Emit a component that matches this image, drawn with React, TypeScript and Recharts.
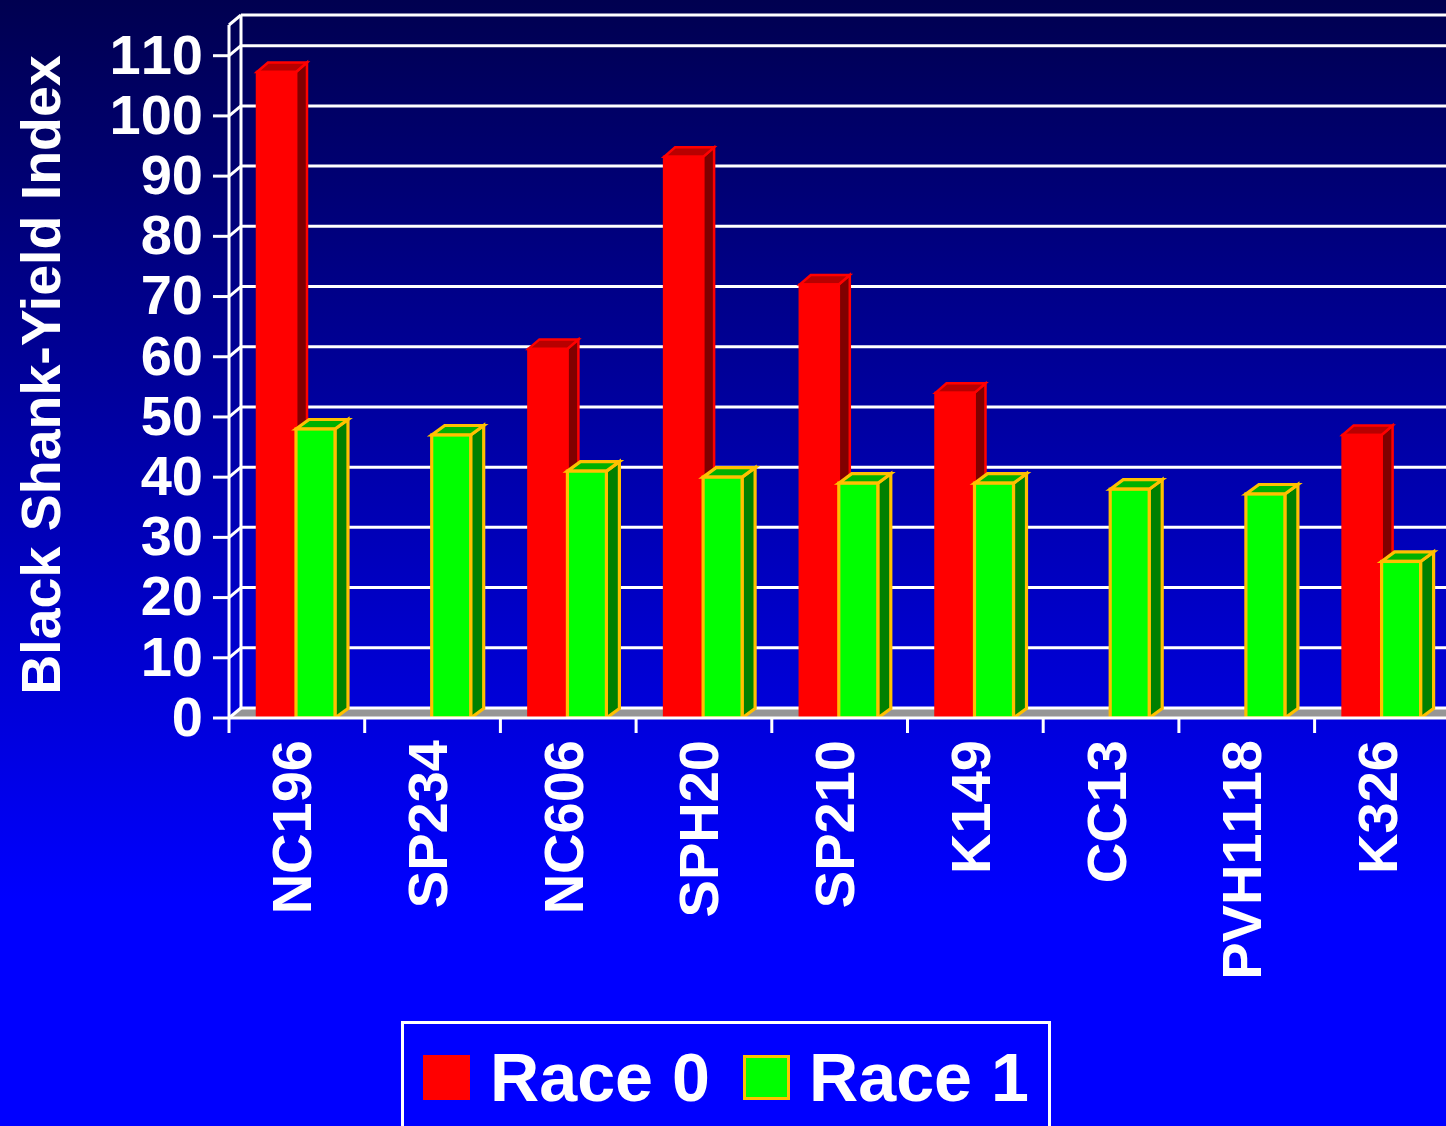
import React from 'react';
import { BarChart, Bar, XAxis, YAxis, CartesianGrid, Legend, Label } from 'recharts';

const categories = ['NC196', 'SP234', 'NC606', 'SPH20', 'SP210', 'K149', 'CC13', 'PVH1118', 'K326'];
const race0: (number | null)[] = [107.3, null, 61.3, 93.2, 72, 54, null, null, 47];
const race1: number[] = [48, 47, 41, 40, 39, 39, 38, 37.2, 26];
const yTicks = [0, 10, 20, 30, 40, 50, 60, 70, 80, 90, 100, 110];
const yMax = 115.1;
const yTitle = 'Black Shank-Yield Index';
const seriesNames = ['Race 0', 'Race 1'];

const data = categories.map((name, i) => ({ name, race0: race0[i], race1: race1[i] }));

const FONT = '"Liberation Sans", Arial, sans-serif';
const DX = 12;
const DY = 10;
const BAND = 135.7;

function Bar3D(props: any, fill: string, top: string, side: string, stroke: string, sw: number, dx: number) {
  const { y, width, height, value } = props;
  if (value == null || !(height > 0)) return <g />;
  const x = props.x - 1;
  const r = x + width;
  const b = y + height;
  const dy = 9.5;
  return (
    <g strokeLinejoin="miter">
      <polygon points={`${r},${y} ${r + dx},${y - dy} ${r + dx},${b - dy} ${r},${b}`} fill={side} stroke={stroke} strokeWidth={sw} />
      <polygon points={`${x},${y} ${x + dx},${y - dy} ${r + dx},${y - dy} ${r},${y}`} fill={top} stroke={stroke} strokeWidth={sw} />
      <rect x={x} y={y} width={width} height={height} fill={fill} stroke={stroke} strokeWidth={sw} />
    </g>
  );
}

function GridH(props: any) {
  const { x1, x2, y1, index } = props;
  const isFloor = index === 0;
  return (
    <g>
      {isFloor && (
        <polygon points={`${x1},${y1} ${x1 + DX},${y1 - DY} ${x2 + DX},${y1 - DY} ${x2 + DX},${y1}`} fill="#969696" />
      )}
      <line x1={x1 + DX} x2={x2 + DX} y1={y1 - DY} y2={y1 - DY} stroke="#fff" strokeWidth={3} />
      <line x1={x1} x2={x1 + DX} y1={y1} y2={y1 - DY} stroke="#fff" strokeWidth={3} />
    </g>
  );
}

function GridV(props: any) {
  const { x1, y1, y2 } = props;
  return <line x1={x1 + DX} x2={x1 + DX} y1={y1 - DY} y2={y2 - DY} stroke="#fff" strokeWidth={3} />;
}

function XTick(props: any) {
  const { x, y, payload } = props;
  return (
    <g>
      <line x1={x - BAND / 2} x2={x - BAND / 2} y1={y} y2={y + 15} stroke="#fff" strokeWidth={3} />
      <text
        x={x + 14.5}
        y={y + 22}
        transform={`rotate(-90 ${x + 14.5} ${y + 22})`}
        textAnchor="end"
        fontFamily={FONT}
        fontWeight={700}
        fontSize={56}
        fill="#fff"
        style={{ fontKerning: 'none' }}
      >
        {payload.value}
      </text>
    </g>
  );
}

function LegendBox() {
  const text: React.CSSProperties = {
    position: 'absolute',
    top: 13,
    color: '#fff',
    fontFamily: FONT,
    fontWeight: 700,
    fontSize: 68.2,
    lineHeight: '80px',
    whiteSpace: 'nowrap',
  };
  return (
    <div style={{ position: 'relative', width: 650, height: 120, border: '3px solid #fff', boxSizing: 'border-box' }}>
      <div style={{ position: 'absolute', left: 19, top: 31, width: 47, height: 45, background: '#ff0000' }} />
      <span style={{ ...text, left: 86 }}>{seriesNames[0]}</span>
      <div style={{ position: 'absolute', left: 339, top: 31, width: 47, height: 45, background: '#00ff00', border: '3px solid #ffc000', boxSizing: 'border-box' }} />
      <span style={{ ...text, left: 405 }}>{seriesNames[1]}</span>
    </div>
  );
}

export default function App() {
  return (
    <div
      style={{
        position: 'absolute',
        left: 0,
        top: 0,
        width: 1446,
        height: 1126,
        overflow: 'hidden',
        background: 'linear-gradient(180deg, #000050 0px, #0000ff 900px)',
      }}
    >
      <BarChart
        width={1470}
        height={1126}
        data={data}
        margin={{ top: 25, right: 19.7, bottom: 0, left: 0 }}
        barSize={39}
        barGap={0}
        barCategoryGap={0}
      >
        <CartesianGrid
          horizontalValues={[...yTicks, yMax]}
          verticalPoints={[229]}
          horizontal={GridH as any}
          vertical={GridV as any}
        />
        <YAxis
          type="number"
          width={229}
          domain={[0, yMax]}
          ticks={yTicks}
          interval={0}
          allowDataOverflow
          stroke="#fff"
          axisLine={{ stroke: '#fff', strokeWidth: 3 }}
          tickLine={{ stroke: '#fff', strokeWidth: 3 }}
          tickSize={16}
          tickMargin={10}
          tick={{ fill: '#fff', fontFamily: FONT, fontWeight: 700, fontSize: 56, dy: -2, style: { fontKerning: 'none' } } as any}
        >
          <Label
            content={() => (
              <text
                x={60}
                y={375}
                transform="rotate(-90 60 375)"
                textAnchor="middle"
                fontFamily={FONT}
                fontWeight={700}
                fontSize={55.5}
                fill="#fff"
              >
                {yTitle}
              </text>
            )}
          />
        </YAxis>
        <XAxis
          dataKey="name"
          height={408}
          interval={0}
          axisLine={{ stroke: '#fff', strokeWidth: 3 }}
          tickLine={false}
          tickSize={0}
          tickMargin={0}
          tick={XTick as any}
        />
        <Legend
          layout="vertical"
          align="center"
          verticalAlign="middle"
          wrapperStyle={{ left: 401, top: 1021, width: 650, height: 120 }}
          content={() => <LegendBox />}
        />
        <Bar
          dataKey="race0"
          name={seriesNames[0]}
          isAnimationActive={false}
          fill="#ff0000"
          shape={(p: any) => Bar3D(p, '#ff0000', '#b80000', '#800000', '#ff0000', 2.5, 11)}
        />
        <Bar
          dataKey="race1"
          name={seriesNames[1]}
          isAnimationActive={false}
          fill="#00ff00"
          shape={(p: any) => Bar3D(p, '#00ff00', '#00b000', '#008000', '#ffc000', 3.2, 13)}
        />
      </BarChart>
    </div>
  );
}
